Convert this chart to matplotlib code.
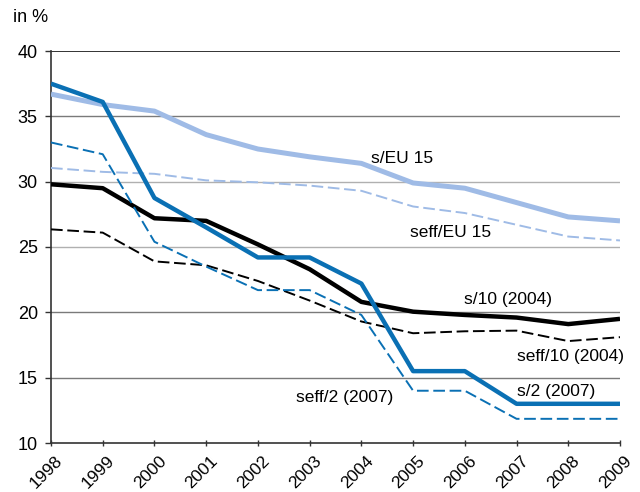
import matplotlib
matplotlib.use("Agg")
import matplotlib.pyplot as plt
from matplotlib.transforms import ScaledTranslation

plt.rcParams['font.family'] = ['Liberation Sans', 'DejaVu Sans']

years = list(range(1998, 2010))
s_eu15 = [36.7, 35.9, 35.4, 33.6, 32.5, 31.9, 31.4, 29.9, 29.5, 28.4, 27.3, 27.0]
seff_eu15 = [31.05, 30.75, 30.6, 30.1, 29.95, 29.7, 29.3, 28.1, 27.6, 26.7, 25.8, 25.5]
s_2 = [37.5, 36.1, 28.75, 26.5, 24.2, 24.2, 22.2, 15.5, 15.5, 13.0, 13.0, 13.0]
seff_2 = [33.0, 32.1, 25.4, 23.5, 21.7, 21.7, 19.8, 14.0, 14.0, 11.85, 11.85, 11.85]
s_10 = [29.8, 29.5, 27.2, 27.0, 25.2, 23.3, 20.8, 20.05, 19.8, 19.6, 19.1, 19.5]
seff_10 = [26.35, 26.1, 23.9, 23.6, 22.4, 20.9, 19.3, 18.4, 18.55, 18.6, 17.8, 18.1]
yticks = [10, 15, 20, 25, 30, 35, 40]
xlabels = [str(y) for y in years]

DARK = '#0a70b4'
LIGHT = '#9fbbe6'

fig = plt.figure(figsize=(6.4, 4.92), dpi=100)
ax = fig.add_axes([51/640, 1 - 443/492, (620-51)/640, (443-51)/492])

grid_colors = {15: '#7a7a7a', 20: '#7a7a7a', 25: '#b0b0b0', 30: '#b0b0b0', 35: '#7a7a7a', 40: '#111111'}
for v, c in grid_colors.items():
    ax.axhline(v, color=c, lw=1.2 if v == 40 else 1.0, zorder=1)

DASH = (6, 2.4)
ax.plot(years, seff_eu15, color=LIGHT, lw=1.4, dashes=DASH, zorder=3)
ax.plot(years, s_eu15, color=LIGHT, lw=3.6, zorder=3, solid_capstyle='butt')
ax.plot(years, seff_10, color='black', lw=1.4, dashes=DASH, zorder=4)
ax.plot(years, s_10, color='black', lw=3.2, zorder=4, solid_capstyle='butt')
ax.plot(years, seff_2, color=DARK, lw=1.4, dashes=DASH, zorder=5)
ax.plot(years, s_2, color=DARK, lw=3.2, zorder=5, solid_capstyle='butt')

ax.set_xlim(1998, 2009)
ax.set_ylim(10, 40)
ax.set_yticks(yticks)
ax.set_xticks(years)
ax.set_xticklabels([])
off = ScaledTranslation(4/100, -10/100, fig.dpi_scale_trans)
xtr = ax.get_xaxis_transform() + off
for yr, lab in zip(years, xlabels):
    ax.text(yr, 0, lab, transform=xtr, rotation=45, ha='right', va='top',
            rotation_mode='anchor', fontsize=12.5, clip_on=False)
ax.tick_params(axis='y', labelsize=13, length=4, width=1, color='#333333', pad=5.5)
ax.tick_params(axis='x', length=4, width=1, color='#333333', direction='inout')
for sp in ['top', 'right']:
    ax.spines[sp].set_visible(False)
ax.spines['left'].set_color('#333333')
ax.spines['bottom'].set_color('#333333')
ax.spines['left'].set_linewidth(1.2)
ax.spines['bottom'].set_linewidth(1.2)

fs = 12.5
kw = dict(fontsize=fs, ha='left', va='baseline', zorder=6)
ax.text(2004.19, 31.45, 's/EU 15', **kw)
ax.text(2004.94, 25.8, 'seff/EU 15', **kw)
ax.text(2005.99, 20.64, 's/10 (2004)', **kw)
ax.text(2007.01, 16.3, 'seff/10 (2004)', **kw)
ax.text(2007.0, 13.63, 's/2 (2007)', **kw)
ax.text(2002.74, 13.17, 'seff/2 (2007)', **kw)

fig.text(13/640, 1 - 22/492, 'in %', fontsize=13, ha='left', va='baseline')

fig.savefig('out.png', dpi=100)
